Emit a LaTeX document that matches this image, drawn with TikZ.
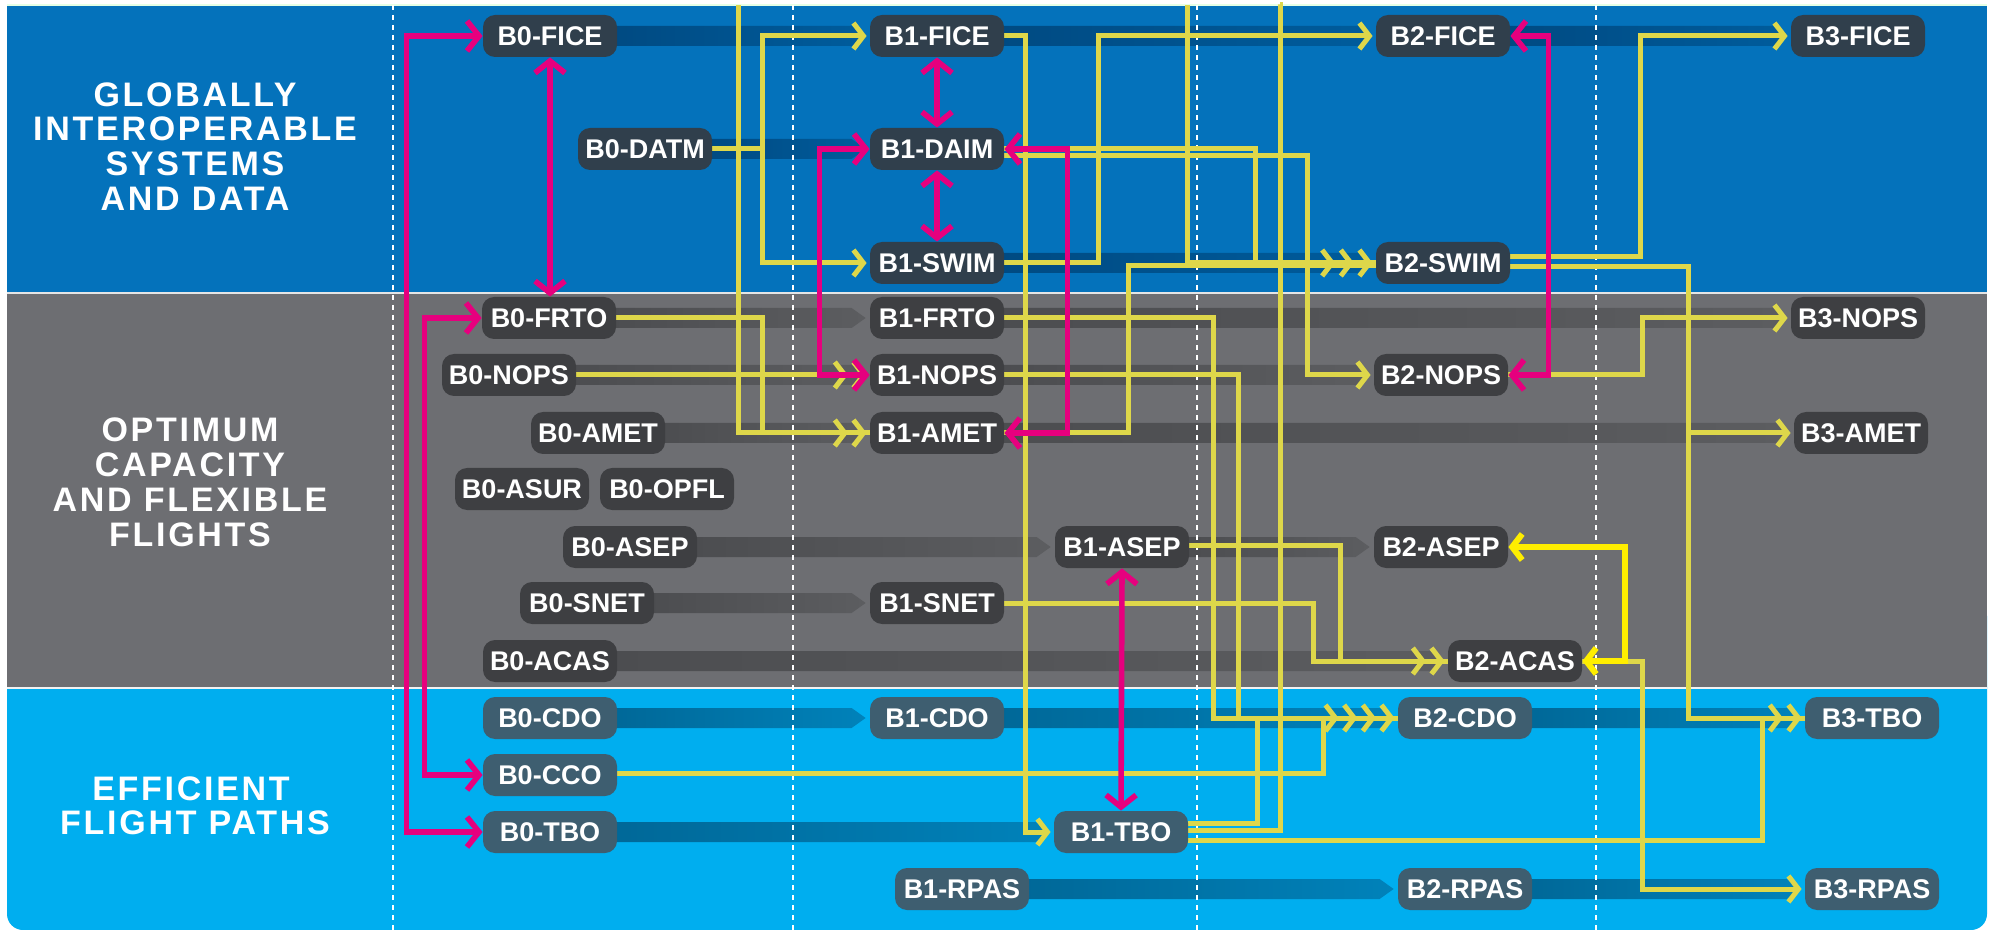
\documentclass[tikz,border=0pt]{standalone}
\usepackage{fontspec}
\setmainfont{Liberation Sans}
\newfontfamily\titlefont{Liberation Sans}[LetterSpace=8]
\usetikzlibrary{arrows.meta,calc}
\definecolor{dkblue}{RGB}{4,114,187}
\definecolor{midgray}{RGB}{109,110,114}
\definecolor{ltblue}{RGB}{0,174,239}
\definecolor{bandAa}{RGB}{0,74,130}
\definecolor{bandAb}{RGB}{0,92,156}
\definecolor{bandBa}{RGB}{76,77,80}
\definecolor{bandBb}{RGB}{92,93,96}
\definecolor{bandCa}{RGB}{0,104,152}
\definecolor{bandCb}{RGB}{0,130,186}
\definecolor{nodeA}{RGB}{48,63,76}
\definecolor{nodeB}{RGB}{62,63,66}
\definecolor{nodeC}{RGB}{62,94,112}
\definecolor{ylw}{RGB}{222,215,74}
\definecolor{ylwb}{RGB}{255,238,0}
\definecolor{mag}{RGB}{230,0,126}
\pgfdeclarelayer{bg}
\pgfdeclarelayer{bands}
\pgfdeclarelayer{lines}
\pgfsetlayers{bg,bands,lines,main}
\newcommand\progband[4]{%
  \shade[left color=#3,right color=#4]
    ($(#1.east)+(-6,-10)$) -- ($(#2.west)+(-18,-10)$) -- ($(#2.west)+(-4,0)$)
    -- ($(#2.west)+(-18,10)$) -- ($(#1.east)+(-6,10)$) -- cycle;}
\tikzset{
  bx/.style={rounded corners=6pt, minimum width=67pt, minimum height=21pt,
    inner sep=0pt, text=white, font=\fontsize{13.5}{15}\selectfont\bfseries},
  bxA/.style={bx, fill=nodeA},
  bxB/.style={bx, fill=nodeB},
  bxC/.style={bx, fill=nodeC},
  ttl/.style={text=white, inner sep=0pt, font=\titlefont\bfseries\fontsize{17}{19}\selectfont},
  yl/.style={draw=ylw, line width=2.5pt, >={Straight Barb[length=5pt,width=13pt,sep=1.5pt]}},
  ylb/.style={draw=ylwb, line width=3pt, >={Straight Barb[length=5pt,width=13pt]}},
  mg/.style={draw=mag, line width=2.8pt, >={Straight Barb[length=6pt,width=15pt]}},
  dots/.style={draw=white, line width=1pt, dash pattern=on 2.5pt off 2.5pt}
}
\begin{document}
\begin{tikzpicture}[x=0.5pt,y=-0.5pt]
\useasboundingbox (0,0) rectangle (1997,930);
\begin{pgfonlayer}{bg}
  \fill[white] (0,0) rectangle (1997,930);
  \fill[ltblue, rounded corners=8pt] (7,600) rectangle (1987,930);
  \fill[dkblue] (7,5) rectangle (1987,293);
  \fill[midgray] (7,293) rectangle (1987,688);
  \draw[white!80!gray, line width=1pt] (7,293) -- (1987,293);
  \draw[white!90!gray, line width=1pt] (7,688) -- (1987,688);
  \draw[green!10!white, line width=1pt] (7,5) -- (1987,5);
\end{pgfonlayer}

% titles
\node[ttl] (tA1) at (195,95) {GLOBALLY};
\node[ttl] (tA2) at (195,129) {INTEROPERABLE};
\node[ttl] (tA3) at (195,164) {SYSTEMS};
\node[ttl] (tA4) at (195,199) {AND DATA};
\node[ttl] (tB1) at (190,430) {OPTIMUM};
\node[ttl] (tB2) at (190,465) {CAPACITY};
\node[ttl] (tB3) at (190,500) {AND FLEXIBLE};
\node[ttl] (tB4) at (190,535) {FLIGHTS};
\node[ttl] (tC1) at (191,789) {EFFICIENT};
\node[ttl] (tC2) at (195,823) {FLIGHT PATHS};

% nodes: blue band
\node[bxA] (B0FICE) at (550,36) {B0-FICE};
\node[bxA] (B0DATM) at (645,149) {B0-DATM};
\node[bxA] (B1FICE) at (937,36) {B1-FICE};
\node[bxA] (B1DAIM) at (937,149) {B1-DAIM};
\node[bxA] (B1SWIM) at (937,263) {B1-SWIM};
\node[bxA] (B2FICE) at (1443,36) {B2-FICE};
\node[bxA] (B2SWIM) at (1443,263) {B2-SWIM};
\node[bxA] (B3FICE) at (1858,36) {B3-FICE};
% gray band
\node[bxB] (B0FRTO) at (549,318) {B0-FRTO};
\node[bxB] (B1FRTO) at (937,318) {B1-FRTO};
\node[bxB] (B3NOPS) at (1858,318) {B3-NOPS};
\node[bxB] (B0NOPS) at (509,375) {B0-NOPS};
\node[bxB] (B1NOPS) at (937,375) {B1-NOPS};
\node[bxB] (B2NOPS) at (1441,375) {B2-NOPS};
\node[bxB] (B0AMET) at (598,433) {B0-AMET};
\node[bxB] (B1AMET) at (937,433) {B1-AMET};
\node[bxB] (B3AMET) at (1861,433) {B3-AMET};
\node[bxB] (B0ASUR) at (522,489) {B0-ASUR};
\node[bxB] (B0OPFL) at (667,489) {B0-OPFL};
\node[bxB] (B0ASEP) at (630,547) {B0-ASEP};
\node[bxB] (B1ASEP) at (1122,547) {B1-ASEP};
\node[bxB] (B2ASEP) at (1441,547) {B2-ASEP};
\node[bxB] (B0SNET) at (587,603) {B0-SNET};
\node[bxB] (B1SNET) at (937,603) {B1-SNET};
\node[bxB] (B0ACAS) at (550,661) {B0-ACAS};
\node[bxB] (B2ACAS) at (1515,661) {B2-ACAS};
% light blue band
\node[bxC] (B0CDO) at (550,718) {B0-CDO};
\node[bxC] (B1CDO) at (937,718) {B1-CDO};
\node[bxC] (B2CDO) at (1465,718) {B2-CDO};
\node[bxC] (B3TBO) at (1872,718) {B3-TBO};
\node[bxC] (B0CCO) at (550,775) {B0-CCO};
\node[bxC] (B0TBO) at (550,832) {B0-TBO};
\node[bxC] (B1TBO) at (1121,832) {B1-TBO};
\node[bxC] (B1RPAS) at (962,889) {B1-RPAS};
\node[bxC] (B2RPAS) at (1465,889) {B2-RPAS};
\node[bxC] (B3RPAS) at (1872,889) {B3-RPAS};

\coordinate (topA) at (738,5);
\coordinate (topB) at (1187,5);
\coordinate (topC) at (1280,5);

\begin{pgfonlayer}{bands}
  \progband{B0FICE}{B1FICE}{bandAa}{bandAb}
  \progband{B1FICE}{B2FICE}{bandAa}{bandAb}
  \progband{B2FICE}{B3FICE}{bandAa}{bandAb}
  \progband{B0DATM}{B1DAIM}{bandAa}{bandAb}
  \progband{B1SWIM}{B2SWIM}{bandAa}{bandAb}
  \progband{B0FRTO}{B1FRTO}{bandBa}{bandBb}
  \progband{B1FRTO}{B3NOPS}{bandBa}{bandBb}
  \progband{B0NOPS}{B1NOPS}{bandBa}{bandBb}
  \progband{B1NOPS}{B2NOPS}{bandBa}{bandBb}
  \progband{B0AMET}{B1AMET}{bandBa}{bandBb}
  \progband{B1AMET}{B3AMET}{bandBa}{bandBb}
  \progband{B0ASEP}{B1ASEP}{bandBa}{bandBb}
  \progband{B1ASEP}{B2ASEP}{bandBa}{bandBb}
  \progband{B0SNET}{B1SNET}{bandBa}{bandBb}
  \progband{B0ACAS}{B2ACAS}{bandBa}{bandBb}
  \progband{B0CDO}{B1CDO}{bandCa}{bandCb}
  \progband{B1CDO}{B2CDO}{bandCa}{bandCb}
  \progband{B2CDO}{B3TBO}{bandCa}{bandCb}
  \progband{B0TBO}{B1TBO}{bandCa}{bandCb}
  \progband{B1RPAS}{B2RPAS}{bandCa}{bandCb}
  \progband{B2RPAS}{B3RPAS}{bandCa}{bandCb}
  \draw[dots] (393,5) -- (393,930);
  \draw[dots] (793,5) -- (793,930);
  \draw[dots] (1197,5) -- (1197,930);
  \draw[dots] (1596,5) -- (1596,930);
\end{pgfonlayer}

\begin{pgfonlayer}{lines}
  % yellow dependencies
  \draw[yl,->>] (topA) |- (B1AMET.west);
  \draw[yl] (B0FRTO.east) -- ++(146,0) |- (B1AMET.west);
  \draw[yl,->] (B0DATM.east) -- ++(50,0) |- (B1FICE.west);
  \draw[yl,->] (B0DATM.east) -- ++(50,0) |- (B1SWIM.west);
  \draw[yl,->>] (B0NOPS.east) -- (B1NOPS.west);
  \draw[yl,->] (B1FICE.east) -- ++(21,0) |- (B1TBO.west);
  \draw[yl] (B1DAIM.east) -- ++(251,0) |- (B2SWIM.west);
  \draw[yl,->] ($(B1DAIM.east)+(0,7)$) -- ++(303,0) |- (B2NOPS.west);
  \draw[yl,->] (B1SWIM.east) -- ++(94,0) |- (B2FICE.west);
  \draw[yl] (B1AMET.east) -- ++(124,0) |- ($(B2SWIM.west)+(0,3)$);
  \draw[yl,-{>>>}] (topB) |- (B2SWIM.west);
  \draw[yl] ($(B1TBO.east)+(0,-2)$) -- ++(92,0) |- (topC);
  \draw[yl] (B1FRTO.east) -- ++(209,0) |- (B2CDO.west);
  \draw[yl] (B1NOPS.east) -- ++(234,0) |- (B2CDO.west);
  \draw[yl] ($(B0CCO.east)+(0,-2)$) -- ++(706,0) |- (B2CDO.west);
  \draw[yl,-{>>>>}] ($(B1TBO.east)+(0,-9)$) -- ++(69,0) |- (B2CDO.west);
  \draw[yl,->>] ($(B1ASEP.east)+(0,-2)$) -- ++(151,0) |- (B2ACAS.west);
  \draw[yl] (B1SNET.east) -- ++(309,0) |- (B2ACAS.west);
  \draw[yl,->] (B2ACAS.east) -- ++(60,0) |- (B3RPAS.west);
  \draw[yl,->] ($(B2SWIM.east)+(0,-6)$) -- ++(130,0) |- (B3FICE.west);
  \draw[yl,->>] ($(B2SWIM.east)+(0,4)$) -- ++(178,0) |- (B3TBO.west);
  \draw[yl,->] ($(B2SWIM.east)+(0,4)$) -- ++(178,0) |- (B3AMET.west);
  \draw[yl,->] (B2NOPS.east) -- ++(134,0) |- (B3NOPS.west);
  \draw[yl] ($(B1TBO.east)+(0,8)$) -- ++(574,0) |- (B3TBO.west);
  \draw[ylb,<->] (B2ACAS.east) -- ++(43,0) |- (B2ASEP.east);
  % magenta links
  \draw[mg,<->] (B0FICE.west) -- ++(-76,0) |- (B0TBO.west);
  \draw[mg,<->] (B0FRTO.west) -- ++(-57,0) |- (B0CCO.west);
  \draw[mg,<->] (B0FICE.south) -- (B0FICE.south |- B0FRTO.north);
  \draw[mg,<->] (B1FICE.south) -- (B1DAIM.north);
  \draw[mg,<->] (B1DAIM.south) -- (B1SWIM.north);
  \draw[mg,<->] (B1DAIM.west) -- ++(-50,0) |- (B1NOPS.west);
  \draw[mg,<->] (B1DAIM.east) -- ++(63,0) |- (B1AMET.east);
  \draw[mg,<->] (B2FICE.east) -- ++(38,0) |- (B2NOPS.east);
  \draw[mg,<->] (B1ASEP.south) -- (B1TBO.north);
\end{pgfonlayer}
\end{tikzpicture}
\end{document}
